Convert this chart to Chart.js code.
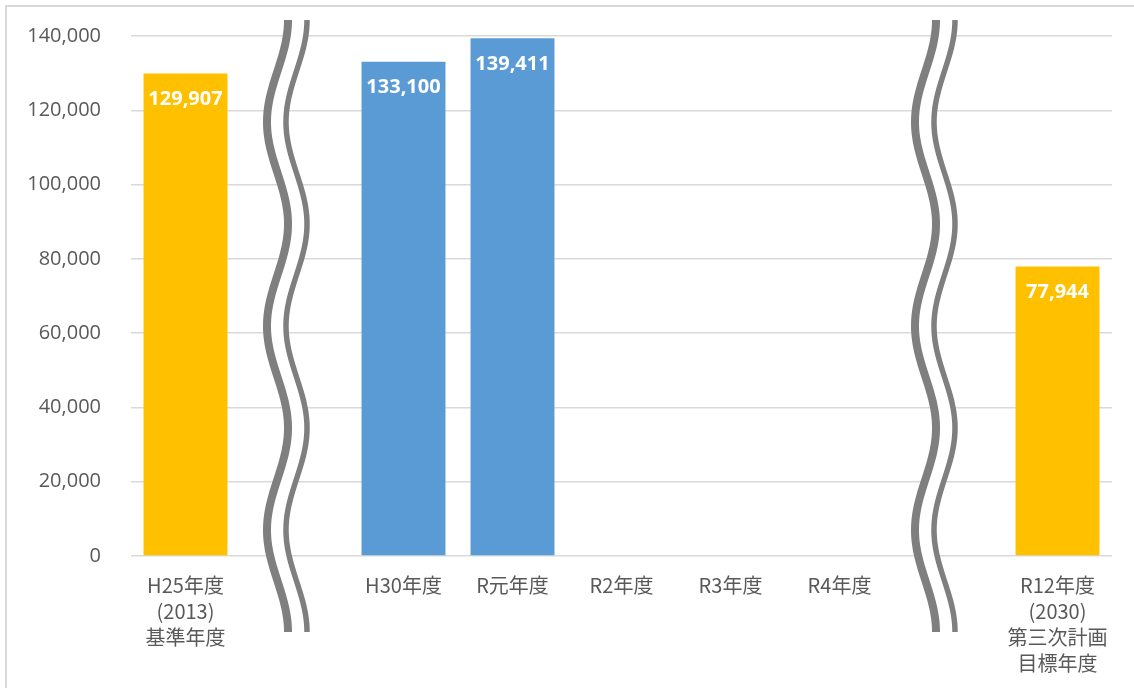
<!DOCTYPE html>
<html lang="ja">
<head>
<meta charset="utf-8">
<title>年度別推移</title>
<script src="https://cdn.jsdelivr.net/npm/chart.js@4"></script>
<style>
  html, body { margin: 0; padding: 0; background: #fff; }
  canvas { display: block; }
</style>
</head>
<body>
<canvas id="mainChart" width="1134" height="688"></canvas>
<script>
// 横軸の区分（空文字は省略記号の位置）
const categories = [
  ["H25年度", "(2013)", "基準年度"],
  "",
  "H30年度",
  "R元年度",
  "R2年度",
  "R3年度",
  "R4年度",
  "",
  ["R12年度", "(2030)", "第三次計画", "目標年度"],
];
const values = [129907, null, 133100, 139411, null, null, null, null, 77944];
const barColors = ["#FFC000", null, "#5B9BD5", "#5B9BD5", "#5B9BD5", "#5B9BD5", "#5B9BD5", null, "#FFC000"];
const yTicks = [0, 20000, 40000, 60000, 80000, 100000, 120000, 140000];
const breakSlots = [1, 7];

const formatNumber = (value) => value.toLocaleString("en-US");

// 外枠（上と左のみ）
const framePlugin = {
  id: "frame",
  beforeDraw(chart) {
    const c = chart.ctx;
    c.save();
    c.fillStyle = "#fff";
    c.fillRect(0, 0, chart.width, chart.height);
    c.strokeStyle = "#d9d9d9";
    c.lineWidth = 2;
    c.beginPath();
    c.moveTo(6, chart.height);
    c.lineTo(6, 6);
    c.lineTo(chart.width, 6);
    c.stroke();
    c.restore();
  },
};

// 波線の省略記号
const breakPlugin = {
  id: "axisBreaks",
  afterDatasetsDraw(chart) {
    const c = chart.ctx;
    const area = chart.chartArea;
    const xScale = chart.scales.x;
    const top = area.top - 16;
    const bottom = area.bottom + 76;
    const amp = 10.5;
    const half = (bottom - top) / 6;
    const offsets = [-17, -23];
    breakSlots.forEach((slot, i) => {
      const base = xScale.getPixelForValue(slot) + offsets[i];
      const wave = (cx) => {
        const pts = [];
        for (let y = top; y <= bottom + 0.1; y += 2) {
          pts.push([cx + amp * Math.cos((Math.PI * (y - top)) / half), y]);
        }
        return pts;
      };
      const left = wave(base);
      const right = wave(base + 19);
      c.save();
      c.fillStyle = "#fff";
      c.beginPath();
      left.forEach(([x, y], k) => (k ? c.lineTo(x, y) : c.moveTo(x, y)));
      right.slice().reverse().forEach(([x, y]) => c.lineTo(x, y));
      c.closePath();
      c.fill();
      c.strokeStyle = "#7f7f7f";
      c.lineCap = "butt";
      c.lineWidth = 8;
      c.beginPath();
      left.forEach(([x, y], k) => (k ? c.lineTo(x, y) : c.moveTo(x, y)));
      c.stroke();
      c.lineWidth = 5.5;
      c.beginPath();
      right.forEach(([x, y], k) => (k ? c.lineTo(x, y) : c.moveTo(x, y)));
      c.stroke();
      c.restore();
    });
  },
};

// 棒の中の数値ラベル
const valueLabelPlugin = {
  id: "valueLabels",
  afterDatasetsDraw(chart) {
    const c = chart.ctx;
    const meta = chart.getDatasetMeta(0);
    c.save();
    c.fillStyle = "#fff";
    c.font = "bold 20px 'Open Sans', sans-serif";
    c.textAlign = "center";
    c.textBaseline = "middle";
    meta.data.forEach((bar, i) => {
      if (values[i] == null) return;
      c.fillText(formatNumber(values[i]), bar.x, bar.y + 26);
    });
    c.restore();
  },
};

new Chart(document.getElementById("mainChart"), {
  type: "bar",
  data: {
    labels: categories,
    datasets: [
      {
        data: values,
        backgroundColor: barColors,
        categoryPercentage: 1,
        barPercentage: 0.77,
      },
    ],
  },
  options: {
    responsive: false,
    animation: false,
    layout: { padding: { top: 36, right: 22, left: 0, bottom: 0 } },
    plugins: {
      legend: { display: false },
      tooltip: { enabled: false },
    },
    scales: {
      x: {
        grid: { display: false, drawTicks: false },
        border: { display: false },
        ticks: {
          color: "#595959",
          padding: 16,
          maxRotation: 0,
          autoSkip: false,
          font: { family: "'Noto Sans CJK JP', sans-serif", size: 20, lineHeight: 1.3 },
        },
        afterFit(scale) {
          scale.height = 132;
          scale.paddingLeft = 0;
          scale.paddingRight = 0;
        },
      },
      y: {
        min: 0,
        max: 140000,
        afterBuildTicks(scale) {
          scale.ticks = yTicks.map((v) => ({ value: v }));
        },
        grid: { color: "#d9d9d9", lineWidth: 1.5, drawTicks: false },
        border: { display: false },
        ticks: {
          color: "#595959",
          padding: 30,
          font: { family: "'Open Sans', sans-serif", size: 20 },
          callback: (v) => formatNumber(v),
        },
        afterFit(scale) {
          scale.width = 131;
          scale.paddingTop = 0;
          scale.paddingBottom = 0;
        },
      },
    },
  },
  plugins: [framePlugin, breakPlugin, valueLabelPlugin],
});
</script>
</body>
</html>
